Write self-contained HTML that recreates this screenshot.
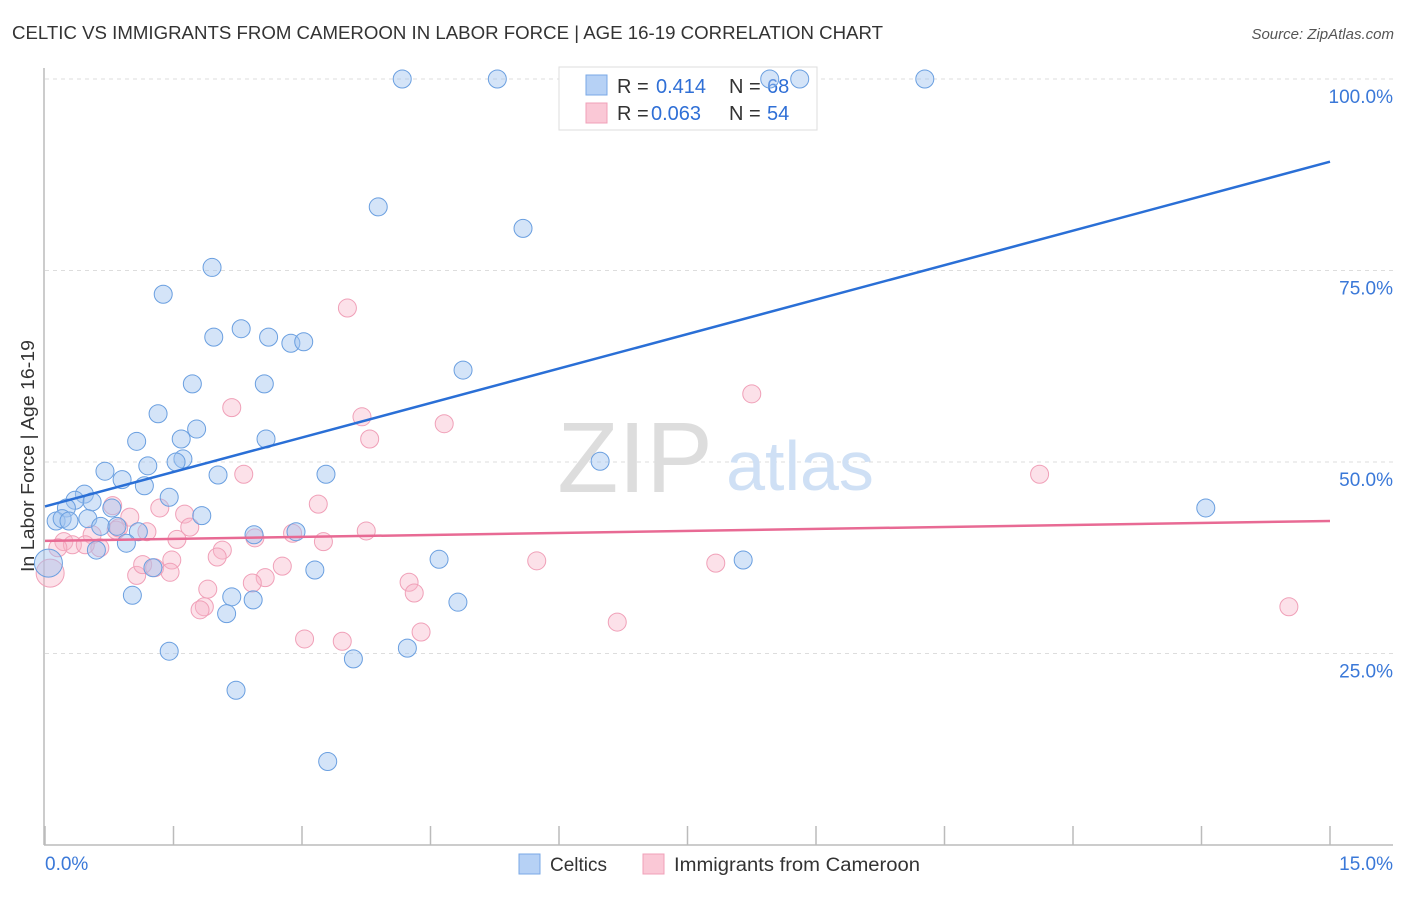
<!DOCTYPE html>
<html><head><meta charset="utf-8"><style>
body{margin:0;background:#fff;font-family:"Liberation Sans",sans-serif;}
svg text{font-family:"Liberation Sans",sans-serif;}
</style></head><body>
<svg id="chart" width="1406" height="892">
<text x="12" y="39" font-size="18" fill="#333" textLength="871" lengthAdjust="spacingAndGlyphs">CELTIC VS IMMIGRANTS FROM CAMEROON IN LABOR FORCE | AGE 16-19 CORRELATION CHART</text>
<text x="1394" y="39" font-size="15" fill="#555" font-style="italic" text-anchor="end">Source: ZipAtlas.com</text>
<text x="34" y="456" font-size="18" fill="#333" text-anchor="middle" textLength="232" lengthAdjust="spacingAndGlyphs" transform="rotate(-90 34 456)">In Labor Force | Age 16-19</text>
<g id="grid"></g>
<text x="635" y="492" font-size="100" fill="#ddd" font-family="Liberation Serif" text-anchor="middle">ZIP</text>
<text x="800" y="490" font-size="70" fill="#cfe0f5" text-anchor="middle">atlas</text>
<g>
<rect x="559" y="67" width="258" height="63" fill="#fff" stroke="#ddd"/>
<rect x="586" y="75" width="21" height="20" fill="#b6d1f5" stroke="#7aa8e6"/>
<rect x="586" y="103" width="21" height="20" fill="#fac8d6" stroke="#f0a0b8"/>
<text x="617" y="93" font-size="20" fill="#333">R = </text><text x="656" y="93" font-size="20" fill="#2f6fd6">0.414</text>
<text x="729" y="93" font-size="20" fill="#333">N = </text><text x="767" y="93" font-size="20" fill="#2f6fd6">68</text>
<text x="617" y="120" font-size="20" fill="#333">R = </text><text x="651" y="120" font-size="20" fill="#2f6fd6">0.063</text>
<text x="729" y="120" font-size="20" fill="#333">N = </text><text x="767" y="120" font-size="20" fill="#2f6fd6">54</text>
</g>
<g id="pts"></g>
<g id="lines"></g>
<g>
<rect x="519" y="854" width="21" height="20" fill="#b6d1f5" stroke="#7aa8e6"/>
<text x="550" y="871" font-size="19" fill="#333">Celtics</text>
<rect x="643" y="854" width="21" height="20" fill="#fac8d6" stroke="#f0a0b8"/>
<text x="674" y="871" font-size="19" fill="#333" textLength="246" lengthAdjust="spacingAndGlyphs">Immigrants from Cameroon</text>
</g>
</svg>
<script>
const celticsX=[4.17,5.28,8.46,8.81,10.27,3.89,5.58,1.95,1.38,2.29,1.97,2.61,2.87,3.02,4.88,1.72,2.56,1.32,1.77,1.07,1.59,2.58,1.61,1.53,6.48,1.20,0.70,3.28,2.02,0.90,1.16,0.46,0.35,1.45,0.55,0.25,0.78,1.83,0.50,0.13,0.20,0.28,0.65,0.84,1.09,2.44,2.93,0.95,0.60,13.55,4.60,8.15,1.26,3.15,1.02,2.18,2.43,4.82,2.12,1.45,4.23,3.60,2.23,3.30,0.04];
const celticsY=[100,100,100,100,100,83.3,80.5,75.4,71.9,67.4,66.3,66.3,65.5,65.7,62.0,60.2,60.2,56.3,54.3,52.7,53.0,53.0,50.4,50.0,50.1,49.5,48.8,48.4,48.3,47.7,46.9,45.8,45.0,45.4,44.8,44.0,44.0,43.0,42.6,42.3,42.6,42.3,41.6,41.6,40.9,40.5,40.9,39.4,38.5,44.0,37.3,37.2,36.2,35.9,32.6,32.4,32.0,31.7,30.2,25.3,25.7,24.3,20.2,10.9,36.8];
const camX=[3.53,8.25,2.18,3.70,4.66,3.79,11.61,2.32,3.19,0.79,1.34,1.63,0.99,1.69,1.19,3.75,2.89,3.25,1.54,0.55,0.22,0.32,0.64,0.47,0.83,2.07,2.01,1.07,1.14,1.48,1.28,1.46,2.57,2.77,2.42,5.74,7.83,4.25,4.31,1.90,1.86,1.81,3.03,3.47,4.39,6.68,14.52,0.06,2.45,0.86,0.15];
const camY=[70.1,58.9,57.1,55.9,55.0,53.0,48.4,48.4,44.5,44.3,44.0,43.2,42.8,41.5,40.9,41.0,40.7,39.6,39.9,40.5,39.6,39.2,38.8,39.2,41.1,38.5,37.6,35.2,36.6,37.2,36.2,35.6,34.9,36.4,34.2,37.1,36.8,34.3,32.9,33.4,31.1,30.7,26.9,26.6,27.8,29.1,31.1,35.5,40.1,41.4,38.8];
const celticsTrend=[44.2,89.2];
const camTrend=[39.7,42.3];
const yTicks=[25,50,75,100];
const yTickLabels=["25.0%","50.0%","75.0%","100.0%"];
const xTicks=[0,1.5,3,4.5,6,7.5,9,10.5,12,13.5,15];
const NS="http://www.w3.org/2000/svg";
const sx=v=>45+v/15*1285;
const sy=v=>845-v/100*766;
function mk(tag,attrs,parent){const e=document.createElementNS(NS,tag);for(const k in attrs)e.setAttribute(k,attrs[k]);parent.appendChild(e);return e;}
const grid=document.getElementById('grid');
yTicks.forEach((t,i)=>{
 const l=mk('line',{x1:45,x2:1393,y1:sy(t),y2:sy(t),stroke:'#ddd','stroke-dasharray':'4,4'},grid);
 
 
 const tx=mk('text',{x:1393,y:sy(t)+24,'font-size':19,fill:'#3a78d8','text-anchor':'end'},grid);
 tx.textContent=yTickLabels[i];
 
 
});
const ax=mk('line',{x1:44,x2:44,y1:68,y2:845,stroke:'#bbb','stroke-width':1.5},grid);


const bx=mk('line',{x1:44,x2:1393,y1:845,y2:845,stroke:'#bbb','stroke-width':1.5},grid);


xTicks.forEach(t=>{
 const l=mk('line',{x1:sx(t),x2:sx(t),y1:826,y2:845,stroke:'#bbb','stroke-width':1.5},grid);
 
 
});
const x0=mk('text',{x:45,y:870,'font-size':19,fill:'#3a78d8'},grid);x0.textContent='0.0%';


const x1=mk('text',{x:1393,y:870,'font-size':19,fill:'#3a78d8','text-anchor':'end'},grid);x1.textContent='15.0%';


const pts=document.getElementById('pts');
camX.forEach((x,i)=>{
 const c=mk('circle',{cx:sx(x),cy:sy(camY[i]),r:i==47?14:9,fill:'rgba(248,180,200,0.4)',stroke:'#f0a0b8','stroke-width':1},pts);
 
 
});
celticsX.forEach((x,i)=>{
 const c=mk('circle',{cx:sx(x),cy:sy(celticsY[i]),r:i==celticsX.length-1?14:9,fill:'rgba(160,196,240,0.45)',stroke:'#6a9fe0','stroke-width':1},pts);
 
 
});
const lines=document.getElementById('lines');
const b=mk('line',{x1:sx(0),y1:sy(celticsTrend[0]),x2:sx(15),y2:sy(celticsTrend[1]),stroke:'#2a6fd6','stroke-width':2.5},lines);


const p=mk('line',{x1:sx(0),y1:sy(camTrend[0]),x2:sx(15),y2:sy(camTrend[1]),stroke:'#e86a94','stroke-width':2.5},lines);


</script>
</body></html>
